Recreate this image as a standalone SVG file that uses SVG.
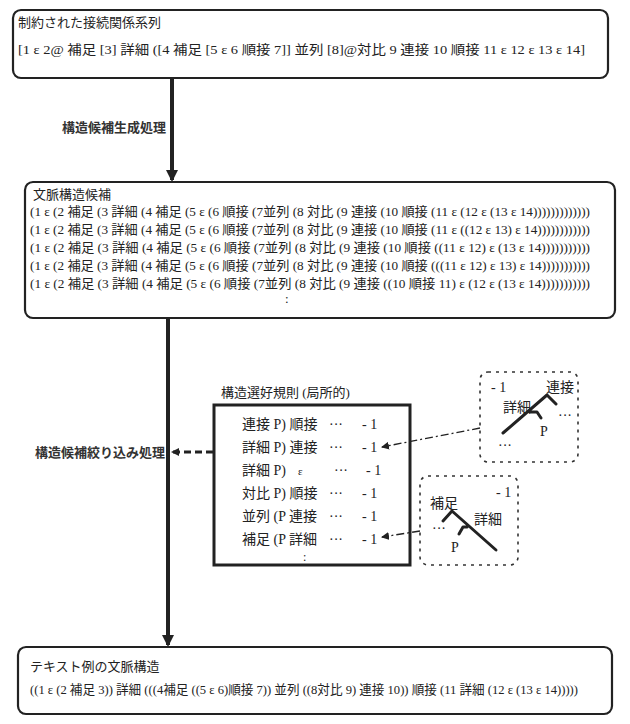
<svg xmlns="http://www.w3.org/2000/svg" width="630" height="724" viewBox="0 0 630 724">
<style>
.box{fill:#fff;stroke:#222;stroke-width:2.2}
.t{font-family:"Liberation Serif","Noto Sans CJK JP",serif;font-size:13px;fill:#222}
.r{font-family:"Liberation Serif","Noto Sans CJK JP",serif;font-size:14px;fill:#222}
.lab{font-family:"Noto Sans CJK JP",sans-serif;font-size:13px;font-weight:bold;fill:#333}
.dot{fill:none;stroke:#333;stroke-width:1.6;stroke-dasharray:3 5}
.tree{fill:none;stroke:#222;stroke-width:3;stroke-linecap:round;stroke-linejoin:round}
</style>
<defs>
<marker id="ah" markerWidth="14" markerHeight="14" refX="10" refY="6" orient="auto" markerUnits="userSpaceOnUse"><path d="M0,0 L12,6 L0,12 z" fill="#222"/></marker>
<marker id="ah2" markerWidth="10" markerHeight="10" refX="7" refY="4" orient="auto" markerUnits="userSpaceOnUse"><path d="M0,0 L8,4 L0,8 z" fill="#222"/></marker>
</defs>
<rect width="630" height="724" fill="#fff"/>
<g id="constrained">
<rect class="box" x="13" y="10" width="595" height="68" rx="8"/>
<text class="t" x="18" y="27">制約された接続関係系列</text>
<text class="t" x="18" y="54" textLength="567" lengthAdjust="spacingAndGlyphs">[1 ε 2@ 補足 [3] 詳細 ([4 補足 [5 ε 6 順接 7]] 並列 [8]@対比 9 連接 10 順接 11 ε 12 ε 13 ε 14]</text>
</g>
<g id="candidates">
<rect class="box" x="25" y="182" width="590" height="136" rx="8"/>
<text class="t" x="33" y="199">文脈構造候補</text>
<text class="t" x="30" y="216" textLength="560" lengthAdjust="spacingAndGlyphs">(1 ε (2 補足 (3 詳細 (4 補足 (5 ε (6 順接 (7並列 (8 対比 (9 連接 (10 順接 (11 ε (12 ε (13 ε 14)))))))))))))</text>
<text class="t" x="30" y="234" textLength="560" lengthAdjust="spacingAndGlyphs">(1 ε (2 補足 (3 詳細 (4 補足 (5 ε (6 順接 (7並列 (8 対比 (9 連接 (10 順接 (11 ε ((12 ε 13) ε 14))))))))))))</text>
<text class="t" x="30" y="252" textLength="560" lengthAdjust="spacingAndGlyphs">(1 ε (2 補足 (3 詳細 (4 補足 (5 ε (6 順接 (7並列 (8 対比 (9 連接 (10 順接 ((11 ε 12) ε (13 ε 14)))))))))))</text>
<text class="t" x="30" y="270" textLength="560" lengthAdjust="spacingAndGlyphs">(1 ε (2 補足 (3 詳細 (4 補足 (5 ε (6 順接 (7並列 (8 対比 (9 連接 (10 順接 (((11 ε 12) ε 13) ε 14)))))))))))</text>
<text class="t" x="30" y="288" textLength="560" lengthAdjust="spacingAndGlyphs">(1 ε (2 補足 (3 詳細 (4 補足 (5 ε (6 順接 (7並列 (8 対比 (9 連接 ((10 順接 11) ε (12 ε (13 ε 14)))))))))))</text>
<text class="t" x="285" y="303">:</text>
</g>
<g id="rules">
<text class="t" x="221" y="397">構造選好規則 (局所的)</text>
<rect x="214" y="405" width="196" height="160" fill="#fff" stroke="#222" stroke-width="3"/>
<g class="r">
<text x="242" y="429">連接 P) 順接</text><text x="329" y="429">···</text><text x="362" y="429">- 1</text>
<text x="242" y="452">詳細 P) 連接</text><text x="329" y="452">···</text><text x="362" y="452">- 1</text>
<text x="242" y="475">詳細 P)</text><text x="298" y="475" font-size="11">ε</text><text x="334" y="475">···</text><text x="366" y="475">- 1</text>
<text x="242" y="498">対比 P) 順接</text><text x="329" y="498">···</text><text x="362" y="498">- 1</text>
<text x="242" y="521">並列 (P 連接</text><text x="329" y="521">···</text><text x="362" y="521">- 1</text>
<text x="242" y="544">補足 (P 詳細</text><text x="329" y="544">···</text><text x="362" y="544">- 1</text>
<text x="303" y="561" font-size="12">:</text>
</g>
</g>
<g id="tree1">
<rect class="dot" x="480" y="372" width="98" height="90" rx="8"/>
<text class="r" x="491" y="392">- 1</text>
<text class="r" x="546" y="392">連接</text>
<text class="r" x="503" y="412">詳細</text>
<path class="tree" d="M503,433 L547,395 L556,404 M530,412 L537,412 L541,418"/>
<text class="r" x="540" y="436">P</text>
<text class="r" x="558" y="420">···</text>
<text class="r" x="498" y="450">···</text>
</g>
<g id="tree2">
<rect class="dot" x="420" y="476" width="98" height="89" rx="8"/>
<text class="r" x="430" y="508">補足</text>
<text class="r" x="496" y="497">- 1</text>
<text class="r" x="474" y="524">詳細</text>
<path class="tree" d="M443,521 L452,511 L496,550 M467,527 L463,527 L459,534"/>
<text class="r" x="432" y="533">···</text>
<text class="r" x="451" y="552">P</text>
</g>
<g id="result">
<rect class="box" x="18" y="647" width="594" height="67" rx="8"/>
<text class="t" x="30" y="671">テキスト例の文脈構造</text>
<text class="t" x="30" y="694" textLength="548" lengthAdjust="spacingAndGlyphs">((1 ε (2 補足 3)) 詳細 (((4補足 ((5 ε 6)順接 7)) 並列 ((8対比 9) 連接 10)) 順接 (11 詳細 (12 ε (13 ε 14)))))</text>
</g>
<g id="connectors">
<line x1="172" y1="79" x2="172" y2="180" stroke="#222" stroke-width="4" marker-end="url(#ah)"/>
<line x1="168" y1="319" x2="168" y2="645" stroke="#222" stroke-width="4" marker-end="url(#ah)"/>
<line x1="213" y1="452" x2="172" y2="452" stroke="#222" stroke-width="3" stroke-dasharray="7 4" marker-end="url(#ah2)"/>
<line x1="480" y1="428" x2="382" y2="447" stroke="#222" stroke-width="1.3" stroke-dasharray="8 3 2 3" marker-end="url(#ah2)"/>
<line x1="420" y1="531" x2="382" y2="537" stroke="#222" stroke-width="1.3" stroke-dasharray="8 3 2 3" marker-end="url(#ah2)"/>
<text class="lab" x="62" y="132">構造候補生成処理</text>
<text class="lab" x="35" y="457">構造候補絞り込み処理</text>
</g>
</svg>
